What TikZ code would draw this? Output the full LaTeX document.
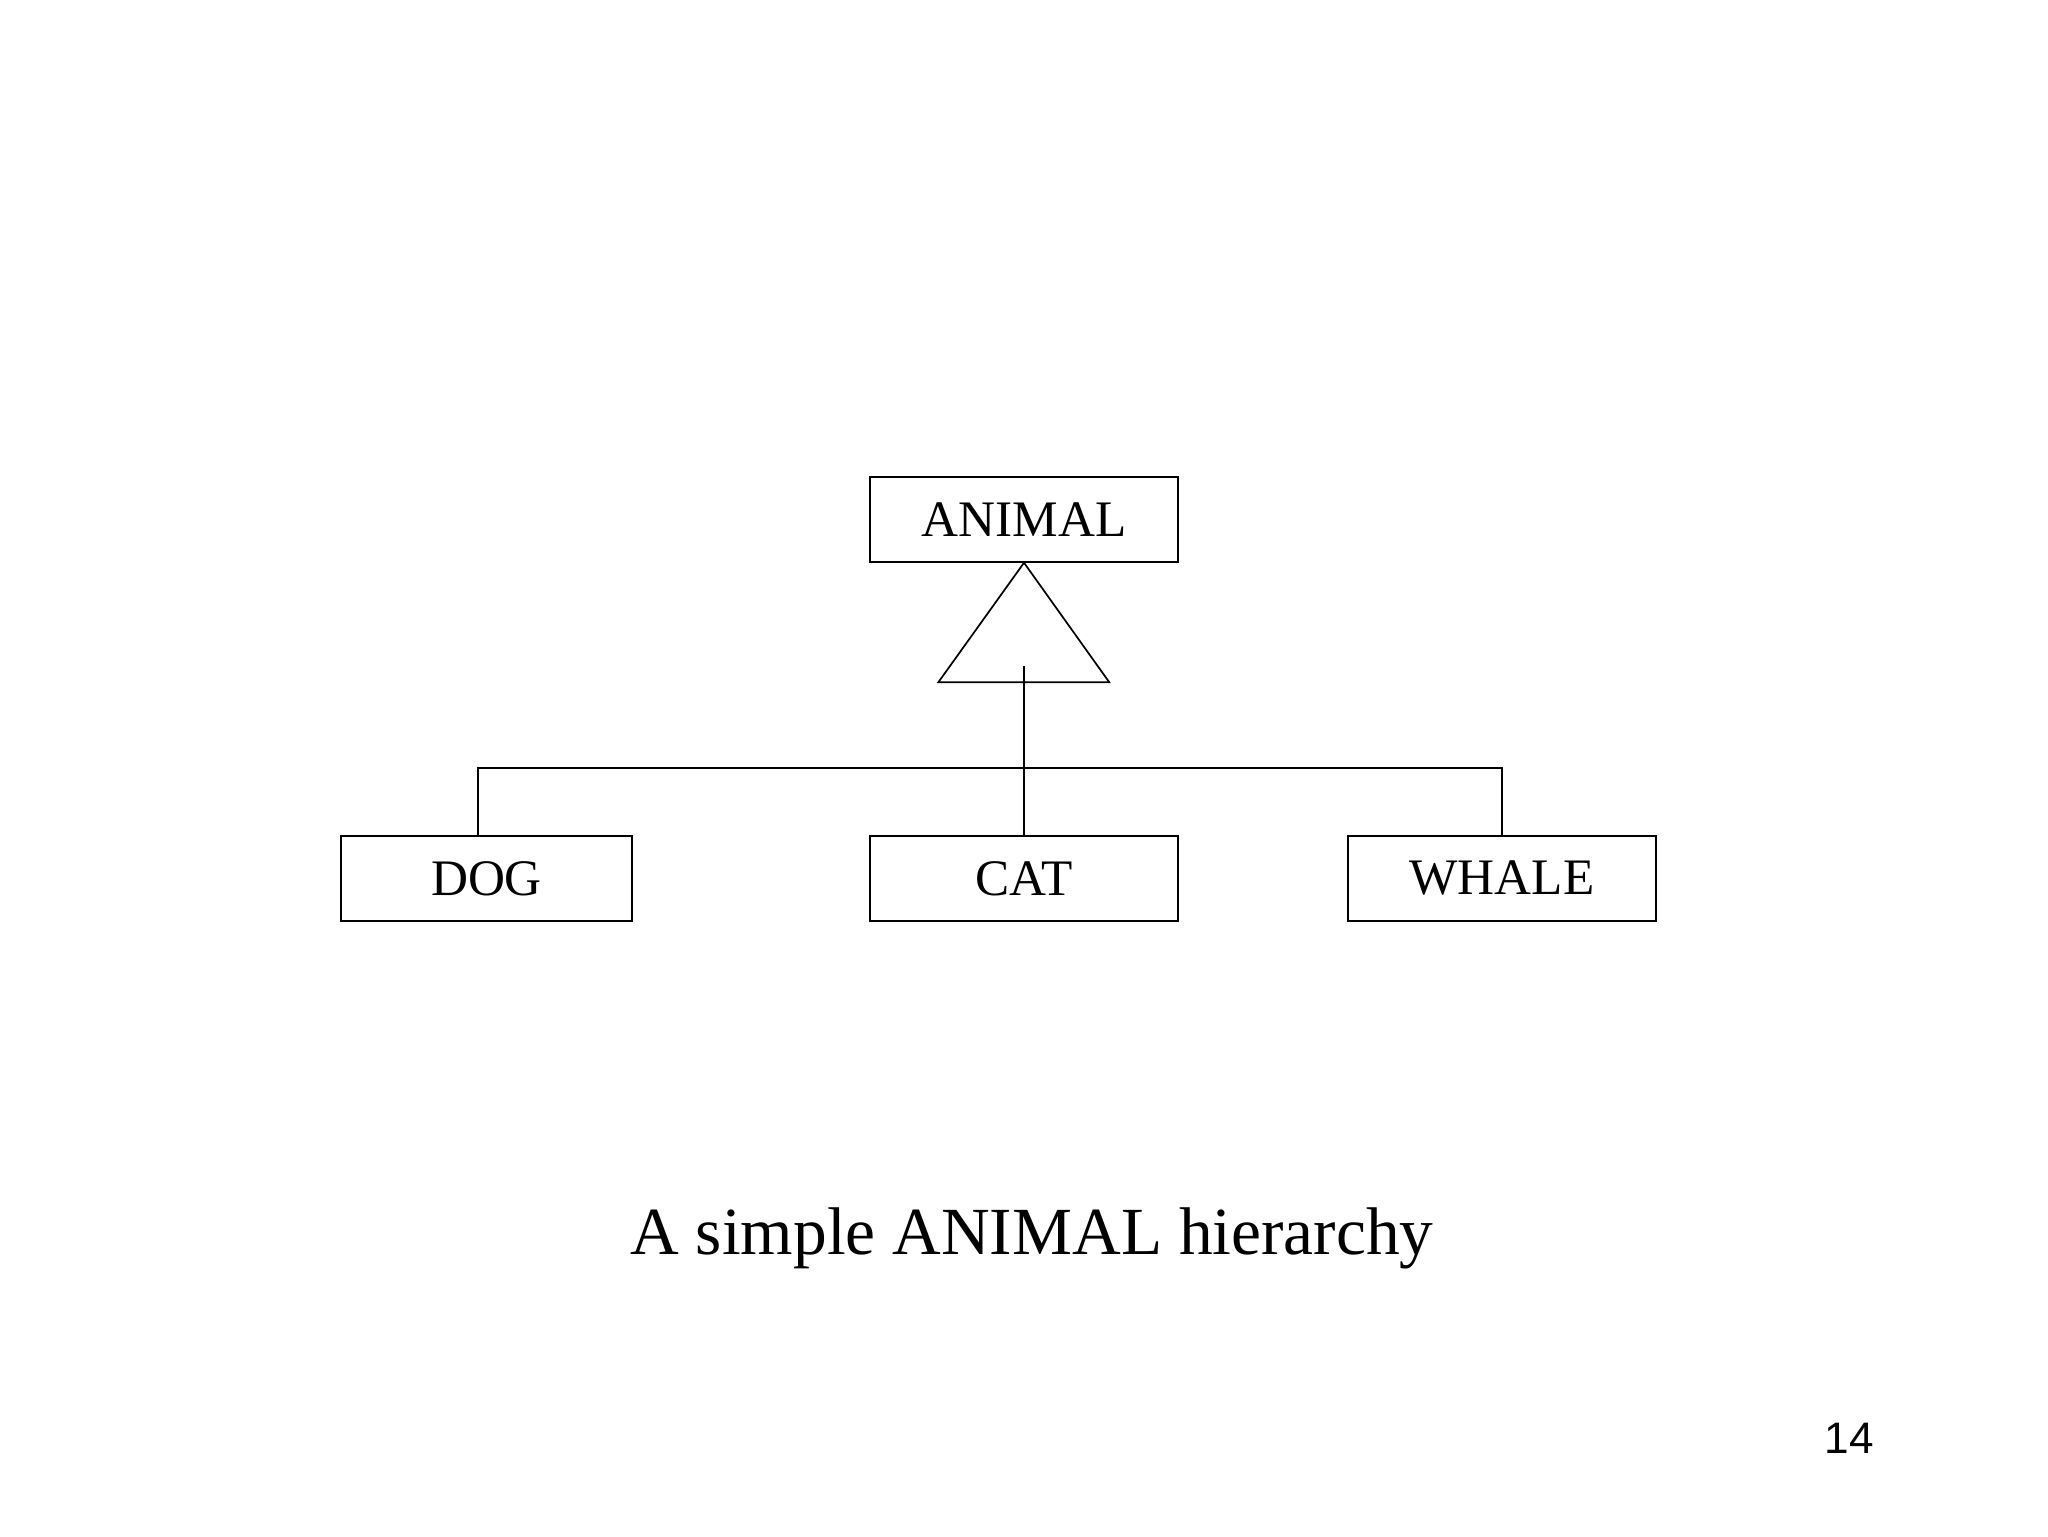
\documentclass[tikz,border=0pt]{standalone}
\usepackage{fontspec}
\setmainfont{Liberation Serif}
\newfontfamily\arialf{Liberation Sans}
\begin{document}
\begin{tikzpicture}[x=0.3516pt,y=-0.3516pt,
  line width=0.6pt,
  classbox/.style={draw,line width=0.6pt,inner sep=0pt,minimum height=29.8pt,font=\fontsize{18}{20}\selectfont},
  wide/.style={minimum width=108.3pt},
  narrow/.style={minimum width=102.3pt},
  caption/.style={inner sep=0pt,anchor=base,font=\fontsize{23.7}{28}\selectfont},
  pagenum/.style={inner sep=0pt,anchor=base,font=\arialf\fontsize{15.5}{18}\selectfont}]
\useasboundingbox[fill=white] (0,0) rectangle (2048,1536);
\node[classbox,wide] (animal) at (1024,519.5) {ANIMAL};
\node[classbox,narrow] (dog) at (486.5,878.3) {DOG};
\node[classbox,wide] (cat) at (1024,878.3) {CAT};
\node[classbox,wide] (whale) at (1502,878.3) {WHALE};
% inheritance triangle
\coordinate (tl) at (938.3,682.3);
\coordinate (tr) at (1109.3,682.3);
\draw[line join=miter] (animal.south) -- (tl) -- (tr) -- cycle;
% stem and bar
\coordinate (stem) at (1024,666);
\coordinate (hl) at (477.7,768);
\coordinate (hr) at (1502,768);
\draw (stem) -- (cat.north);
\draw (dog.north -| hl) -- (hl) -- (hr) -- (whale.north);
\node[caption] (cap) at (1032,1254) {A simple ANIMAL hierarchy};
\node[pagenum] (num) at (1849,1453) {14};
\end{tikzpicture}
\end{document}
